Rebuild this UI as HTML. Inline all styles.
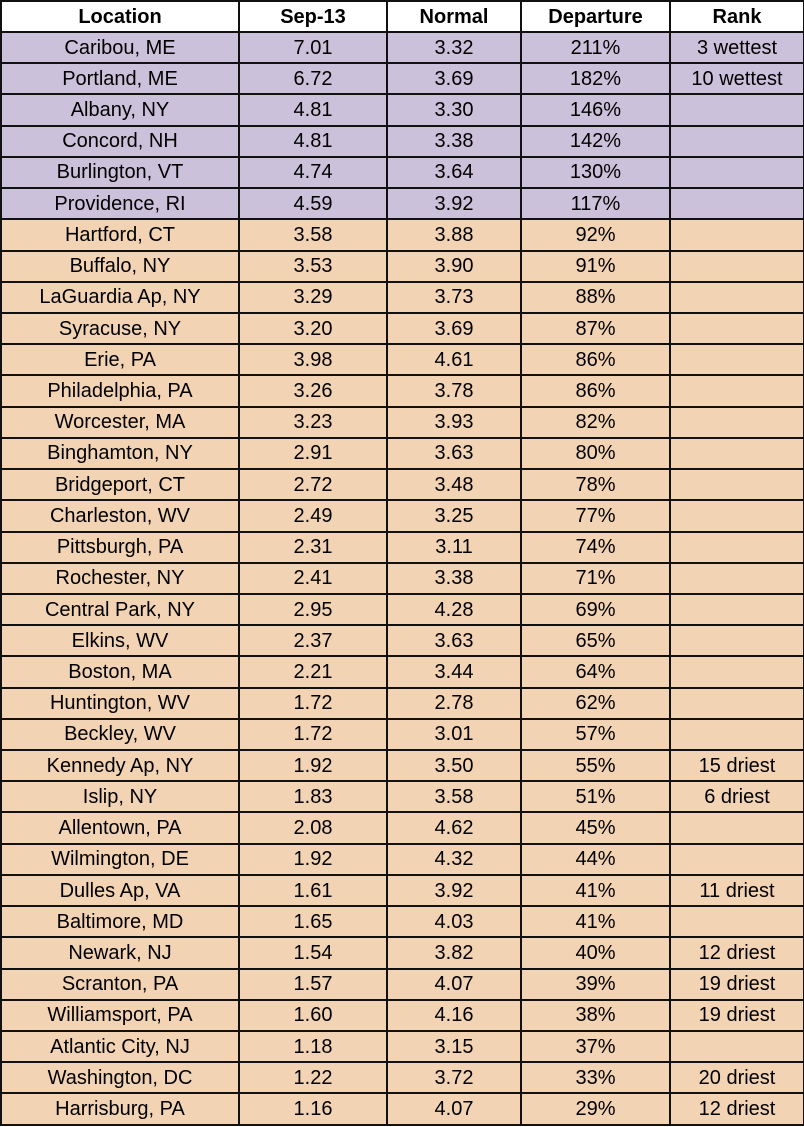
<!DOCTYPE html>
<html><head><meta charset="utf-8"><style>
html,body{margin:0;padding:0;background:#fff;width:804px;height:1127px;overflow:hidden}
table{position:absolute;left:0;top:0;width:803px;height:1126px;border-collapse:collapse;table-layout:fixed;font-family:"Liberation Sans",sans-serif;font-size:20px;color:#000}
td,th{border:2px solid #111;text-align:center;padding:0;line-height:1;white-space:nowrap}
th{background:#fff;font-weight:bold;height:29px;font-size:20px}
tr.p td{background:#ccc1da}
tr.o td{background:#f2d3b4}
</style></head><body>
<table>
<colgroup><col style="width:238px"><col style="width:148px"><col style="width:134px"><col style="width:149px"><col style="width:134px"></colgroup>
<tr><th>Location</th><th>Sep-13</th><th>Normal</th><th>Departure</th><th>Rank</th></tr>
<tr class="p"><td>Caribou, ME</td><td>7.01</td><td>3.32</td><td>211%</td><td>3 wettest</td></tr>
<tr class="p"><td>Portland, ME</td><td>6.72</td><td>3.69</td><td>182%</td><td>10 wettest</td></tr>
<tr class="p"><td>Albany, NY</td><td>4.81</td><td>3.30</td><td>146%</td><td></td></tr>
<tr class="p"><td>Concord, NH</td><td>4.81</td><td>3.38</td><td>142%</td><td></td></tr>
<tr class="p"><td>Burlington, VT</td><td>4.74</td><td>3.64</td><td>130%</td><td></td></tr>
<tr class="p"><td>Providence, RI</td><td>4.59</td><td>3.92</td><td>117%</td><td></td></tr>
<tr class="o"><td>Hartford, CT</td><td>3.58</td><td>3.88</td><td>92%</td><td></td></tr>
<tr class="o"><td>Buffalo, NY</td><td>3.53</td><td>3.90</td><td>91%</td><td></td></tr>
<tr class="o"><td>LaGuardia Ap, NY</td><td>3.29</td><td>3.73</td><td>88%</td><td></td></tr>
<tr class="o"><td>Syracuse, NY</td><td>3.20</td><td>3.69</td><td>87%</td><td></td></tr>
<tr class="o"><td>Erie, PA</td><td>3.98</td><td>4.61</td><td>86%</td><td></td></tr>
<tr class="o"><td>Philadelphia, PA</td><td>3.26</td><td>3.78</td><td>86%</td><td></td></tr>
<tr class="o"><td>Worcester, MA</td><td>3.23</td><td>3.93</td><td>82%</td><td></td></tr>
<tr class="o"><td>Binghamton, NY</td><td>2.91</td><td>3.63</td><td>80%</td><td></td></tr>
<tr class="o"><td>Bridgeport, CT</td><td>2.72</td><td>3.48</td><td>78%</td><td></td></tr>
<tr class="o"><td>Charleston, WV</td><td>2.49</td><td>3.25</td><td>77%</td><td></td></tr>
<tr class="o"><td>Pittsburgh, PA</td><td>2.31</td><td>3.11</td><td>74%</td><td></td></tr>
<tr class="o"><td>Rochester, NY</td><td>2.41</td><td>3.38</td><td>71%</td><td></td></tr>
<tr class="o"><td>Central Park, NY</td><td>2.95</td><td>4.28</td><td>69%</td><td></td></tr>
<tr class="o"><td>Elkins, WV</td><td>2.37</td><td>3.63</td><td>65%</td><td></td></tr>
<tr class="o"><td>Boston, MA</td><td>2.21</td><td>3.44</td><td>64%</td><td></td></tr>
<tr class="o"><td>Huntington, WV</td><td>1.72</td><td>2.78</td><td>62%</td><td></td></tr>
<tr class="o"><td>Beckley, WV</td><td>1.72</td><td>3.01</td><td>57%</td><td></td></tr>
<tr class="o"><td>Kennedy Ap, NY</td><td>1.92</td><td>3.50</td><td>55%</td><td>15 driest</td></tr>
<tr class="o"><td>Islip, NY</td><td>1.83</td><td>3.58</td><td>51%</td><td>6 driest</td></tr>
<tr class="o"><td>Allentown, PA</td><td>2.08</td><td>4.62</td><td>45%</td><td></td></tr>
<tr class="o"><td>Wilmington, DE</td><td>1.92</td><td>4.32</td><td>44%</td><td></td></tr>
<tr class="o"><td>Dulles Ap, VA</td><td>1.61</td><td>3.92</td><td>41%</td><td>11 driest</td></tr>
<tr class="o"><td>Baltimore, MD</td><td>1.65</td><td>4.03</td><td>41%</td><td></td></tr>
<tr class="o"><td>Newark, NJ</td><td>1.54</td><td>3.82</td><td>40%</td><td>12 driest</td></tr>
<tr class="o"><td>Scranton, PA</td><td>1.57</td><td>4.07</td><td>39%</td><td>19 driest</td></tr>
<tr class="o"><td>Williamsport, PA</td><td>1.60</td><td>4.16</td><td>38%</td><td>19 driest</td></tr>
<tr class="o"><td>Atlantic City, NJ</td><td>1.18</td><td>3.15</td><td>37%</td><td></td></tr>
<tr class="o"><td>Washington, DC</td><td>1.22</td><td>3.72</td><td>33%</td><td>20 driest</td></tr>
<tr class="o"><td>Harrisburg, PA</td><td>1.16</td><td>4.07</td><td>29%</td><td>12 driest</td></tr>
</table>
</body></html>
